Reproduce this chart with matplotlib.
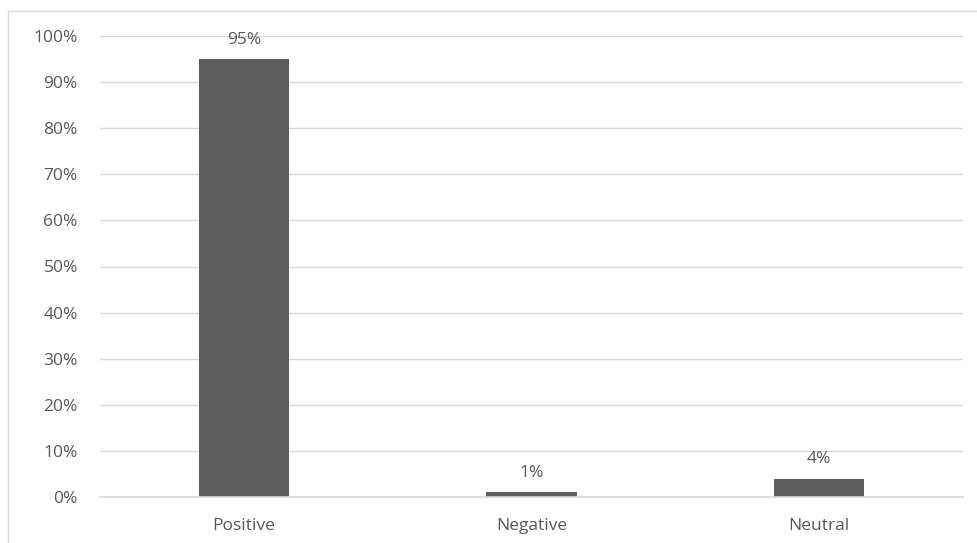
import numpy as np
import matplotlib
matplotlib.use("Agg")
import matplotlib.pyplot as plt
from matplotlib.patches import Rectangle
from matplotlib.ticker import PercentFormatter

categories = ["Positive", "Negative", "Neutral"]
values = [95, 1, 4]
labels = ["95%", "1%", "4%"]

plt.rcParams.update({"font.family": ["Open Sans", "DejaVu Sans"], "font.size": 12.5})
TXT = "#595959"

fig = plt.figure(figsize=(9.77, 5.43), dpi=100)
ax = fig.add_axes([100/977, 46/543, 863/977, 461/543])

x = np.arange(len(categories))
ax.bar(x, values, width=0.313, color="#5e5e5e", zorder=3)
for xi, v, lab in zip(x, values, labels):
    ax.text(xi, v + 2.4, lab, ha="center", va="bottom", color=TXT, fontsize=12.5)

ax.set_xlim(-0.5, 2.5)
ax.set_ylim(0, 100)
ax.set_yticks(np.arange(0, 101, 10))
ax.yaxis.set_major_formatter(PercentFormatter(decimals=0))
ax.set_xticks(x)
ax.set_xticklabels(categories)
ax.tick_params(length=0, colors=TXT, labelsize=12.5)
ax.tick_params(axis="y", pad=16)
ax.tick_params(axis="x", pad=15)
ax.grid(axis="y", color="#d9d9d9", lw=1, zorder=0)
ax.axhline(0, color="#d9d9d9", lw=1.2, zorder=4, clip_on=False)
for s in ax.spines.values():
    s.set_visible(False)

# chart-area border
fig.patches.append(Rectangle((8/977, -0.1), 1.1, (543-11)/543 + 0.1,
                             transform=fig.transFigure, fill=False,
                             ec="#d9d9d9", lw=1))

fig.savefig("out.png", dpi=100)
